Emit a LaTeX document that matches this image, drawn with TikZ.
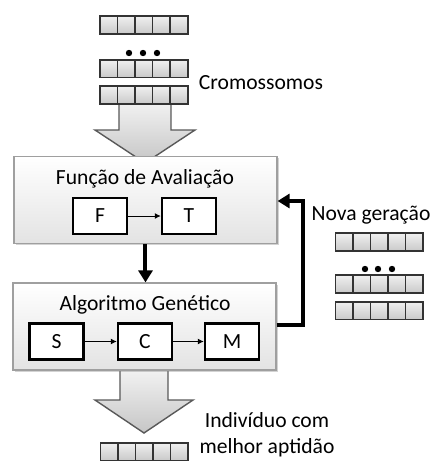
\documentclass[tikz,border=0pt]{standalone}
\usepackage{fontspec}
\setmainfont{Carlito}
\usetikzlibrary{arrows.meta,shadows}

\begin{document}
\begin{tikzpicture}[
    x=0.5pt, y=-0.5pt,
    every node/.style={font=\fontsize{10.8}{13}\selectfont},
    bloco/.style={draw=gray!75, line width=0.6pt, top color=white, bottom color=gray!22,
        drop shadow={shadow xshift=0.8pt, shadow yshift=-0.8pt, opacity=0.35},
        minimum width=131.5pt, minimum height=43.5pt, inner sep=0pt},
    op/.style={draw, fill=white, line width=1.2pt, minimum width=27pt,
        minimum height=18pt, inner sep=0pt},
    gene/.style={draw=black!80, line width=0.8pt, top color=gray!12, bottom color=gray!42,
        minimum width=8.8pt, minimum height=8.8pt, inner sep=0pt},
    seta/.style={-{Latex[length=3pt,width=3pt]}, line width=0.5pt},
    laco/.style={-{Triangle[length=6pt,width=7pt]}, line width=2pt},
    setao/.style={draw=gray!70!black, line width=0.7pt, top color=gray!8, bottom color=gray!45},
    ponto/.style={circle, fill, inner sep=0pt, minimum size=3.2pt}]

\useasboundingbox (0,0) rectangle (431,462);

\draw[setao, shift={(145,98)}] (-26,0) -- (26,0) -- (26,32) -- (50,32) -- (0,65)
    -- (-50,32) -- (-26,32) -- cycle;
\draw[setao, shift={(144,366)}] (-24,0) -- (24,0) -- (24,34) -- (49,34) -- (0,67)
    -- (-49,34) -- (-24,34) -- cycle;

\node[bloco] (aval) at (145.5,200) {};
\node (avaltit) at (145,179) {Função de Avaliação};
\node[op] (f) at (100,216) {F};
\node[op] (t) at (189,216) {T};

\node[bloco] (gen) at (144.5,326.5) {};
\node (gentit) at (145,305) {Algoritmo Genético};
\node[op] (s) at (56.5,341.5) {S};
\node[op] (c) at (145,341.5) {C};
\node[op] (m) at (232,341.5) {M};

\draw[seta] (f) -- (t);
\draw[seta] (s) -- (c);
\draw[seta] (c) -- (m);

\draw[laco] (aval.south) -- (aval.south |- gen.north);
\coordinate (volta) at (303,325);
\coordinate (retorno) at (303,201);
\draw[laco] (gen.east |- volta) -- (volta) -- (retorno) -- (aval.east |- retorno);

\foreach \nome/\cx/\cy in {ca/144/25, cb/144/68.5, cc/144/95, na/379.5/242,
    nb/379.5/284, nc/379.5/310.5, mel/144.5/451.5}
  \foreach \i in {1,...,5}
    \node[gene] (\nome\i) at ({\cx+(\i-3)*17.5},\cy) {};

\foreach \nome/\px/\py in {pa/129/53, pb/143/53, pc/157/53, pd/365/269, pe/378/269, pf/392/269}
  \node[ponto] (\nome) at (\px,\py) {};

\node (crom) at (261,83) {Cromossomos};
\node (nova) at (371,215) {Nova geração};
\node[align=center] (melhor) at (267,435) {Indivíduo com\\melhor aptidão};

\end{tikzpicture}
\end{document}
